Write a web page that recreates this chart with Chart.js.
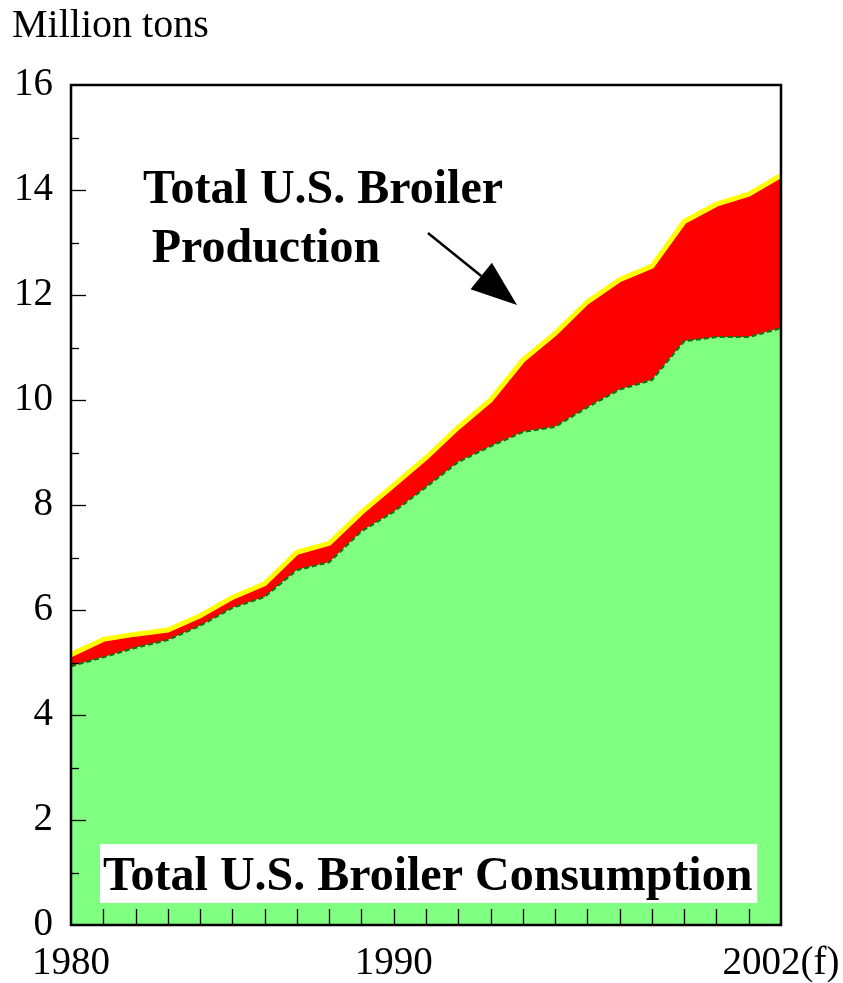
<!DOCTYPE html>
<html>
<head>
<meta charset="utf-8">
<script src="https://cdn.jsdelivr.net/npm/chart.js@4.4.1/dist/chart.umd.min.js"></script>
<style>
  body { margin: 0; background: #fff; }
</style>
</head>
<body>
<canvas id="broilerChart" width="843" height="983"></canvas>
<script>
const years = [1980, 1981, 1982, 1983, 1984, 1985, 1986, 1987, 1988, 1989, 1990, 1991,
  1992, 1993, 1994, 1995, 1996, 1997, 1998, 1999, 2000, 2001, 2002];
const production = [5.15, 5.44, 5.54, 5.62, 5.89, 6.24, 6.5, 7.1, 7.27, 7.86, 8.38, 8.9,
  9.48, 10.0, 10.76, 11.27, 11.87, 12.29, 12.55, 13.4, 13.73, 13.92, 14.28];
const consumption = [4.93, 5.1, 5.28, 5.43, 5.7, 6.04, 6.25, 6.76, 6.91, 7.5, 7.87, 8.34,
  8.82, 9.12, 9.39, 9.49, 9.86, 10.2, 10.38, 11.12, 11.2, 11.2, 11.37];
const xTickLabels = { 1980: "1980", 1990: "1990", 2002: "2002(f)" };
const yTicks = [0, 2, 4, 6, 8, 10, 12, 14, 16];

const serif = "'Liberation Serif', 'Times New Roman', serif";

// draws the box, inward ticks and the text notes
const extras = {
  id: "extras",
  afterDraw(chart) {
    const { ctx, chartArea: a, scales: { x, y } } = chart;
    ctx.save();

    // inward tick marks
    ctx.strokeStyle = "#000";
    ctx.lineWidth = 1.3;
    for (let v = 1; v < 16; v++) {
      const py = Math.round(y.getPixelForValue(v)) + 0.5;
      const len = v % 2 === 0 ? 15 : 8;
      ctx.beginPath();
      ctx.moveTo(a.left, py);
      ctx.lineTo(a.left + len, py);
      ctx.stroke();
    }
    for (let yr = years[0] + 1; yr < years[years.length - 1]; yr++) {
      const px = Math.round(x.getPixelForValue(yr)) + 0.5;
      ctx.beginPath();
      ctx.moveTo(px, a.bottom);
      ctx.lineTo(px, a.bottom - 16);
      ctx.stroke();
    }

    // frame
    ctx.lineWidth = 2.5;
    ctx.strokeRect(a.left, a.top, a.right - a.left, a.bottom - a.top);

    // unit label
    ctx.fillStyle = "#000";
    ctx.font = "40px " + serif;
    ctx.textBaseline = "alphabetic";
    ctx.fillText("Million tons", 12, 37);

    // production note + arrow
    ctx.font = "bold 48px " + serif;
    ctx.fillText("Total U.S. Broiler", x.getPixelForValue(1982.23), y.getPixelForValue(13.75));
    ctx.fillText("Production", x.getPixelForValue(1982.5), y.getPixelForValue(12.63));

    const x0 = x.getPixelForValue(1991.06), y0 = y.getPixelForValue(13.18);
    const x1 = x.getPixelForValue(1993.82), y1 = y.getPixelForValue(11.81);
    const ang = Math.atan2(y1 - y0, x1 - x0);
    const head = 46, half = 17;
    const bx = x1 - head * Math.cos(ang), by = y1 - head * Math.sin(ang);
    ctx.lineWidth = 2.5;
    ctx.beginPath();
    ctx.moveTo(x0, y0);
    ctx.lineTo(bx, by);
    ctx.stroke();
    ctx.beginPath();
    ctx.moveTo(x1, y1);
    ctx.lineTo(bx + half * Math.sin(ang), by - half * Math.cos(ang));
    ctx.lineTo(bx - half * Math.sin(ang), by + half * Math.cos(ang));
    ctx.closePath();
    ctx.fill();

    // consumption note on white box
    const l = x.getPixelForValue(1980.9), r = x.getPixelForValue(2001.26);
    const t = y.getPixelForValue(1.54), b = y.getPixelForValue(0.42);
    ctx.fillStyle = "#fff";
    ctx.fillRect(l, t, r - l, b - t);
    ctx.fillStyle = "#000";
    ctx.fillText("Total U.S. Broiler Consumption", x.getPixelForValue(1980.99), y.getPixelForValue(0.67));

    ctx.restore();
  }
};

new Chart("broilerChart", {
  type: "line",
  data: {
    datasets: [
      {
        label: "Total U.S. Broiler Consumption",
        data: consumption.map((v, i) => ({ x: years[i], y: v })),
        borderColor: "#127212",
        borderWidth: 2.2,
        borderDash: [5, 3],
        backgroundColor: "#80ff80",
        fill: "origin",
        pointRadius: 0,
        tension: 0,
      },
      {
        label: "Total U.S. Broiler Production",
        data: production.map((v, i) => ({ x: years[i], y: v })),
        borderColor: "#ffff00",
        borderWidth: 5,
        backgroundColor: "#ff0000",
        fill: "-1",
        pointRadius: 0,
        tension: 0,
      },
    ],
  },
  options: {
    responsive: false,
    devicePixelRatio: 1,
    animation: false,
    layout: { padding: { top: 85, right: 62, left: 0, bottom: 0 } },
    plugins: {
      legend: { display: false },
      tooltip: { enabled: false },
    },
    scales: {
      x: {
        type: "linear",
        min: years[0],
        max: years[years.length - 1],
        afterBuildTicks: (s) => { s.ticks = Object.keys(xTickLabels).map((v) => ({ value: +v })); },
        afterFit: (s) => { s.height = 58; s.paddingLeft = 0; s.paddingRight = 0; },
        grid: { display: false, drawTicks: false },
        border: { display: false },
        ticks: {
          autoSkip: false,
          maxRotation: 0,
          padding: 15,
          color: "#000",
          font: { family: serif, size: 39 },
          callback: (v) => xTickLabels[v] || "",
        },
      },
      y: {
        min: 0,
        max: 16,
        afterBuildTicks: (s) => { s.ticks = yTicks.map((v) => ({ value: v })); },
        afterFit: (s) => { s.width = 71; s.paddingTop = 0; s.paddingBottom = 0; },
        grid: { display: false, drawTicks: false },
        border: { display: false },
        ticks: {
          padding: 18,
          color: "#000",
          font: { family: serif, size: 39 },
        },
      },
    },
  },
  plugins: [extras],
});
</script>
</body>
</html>
